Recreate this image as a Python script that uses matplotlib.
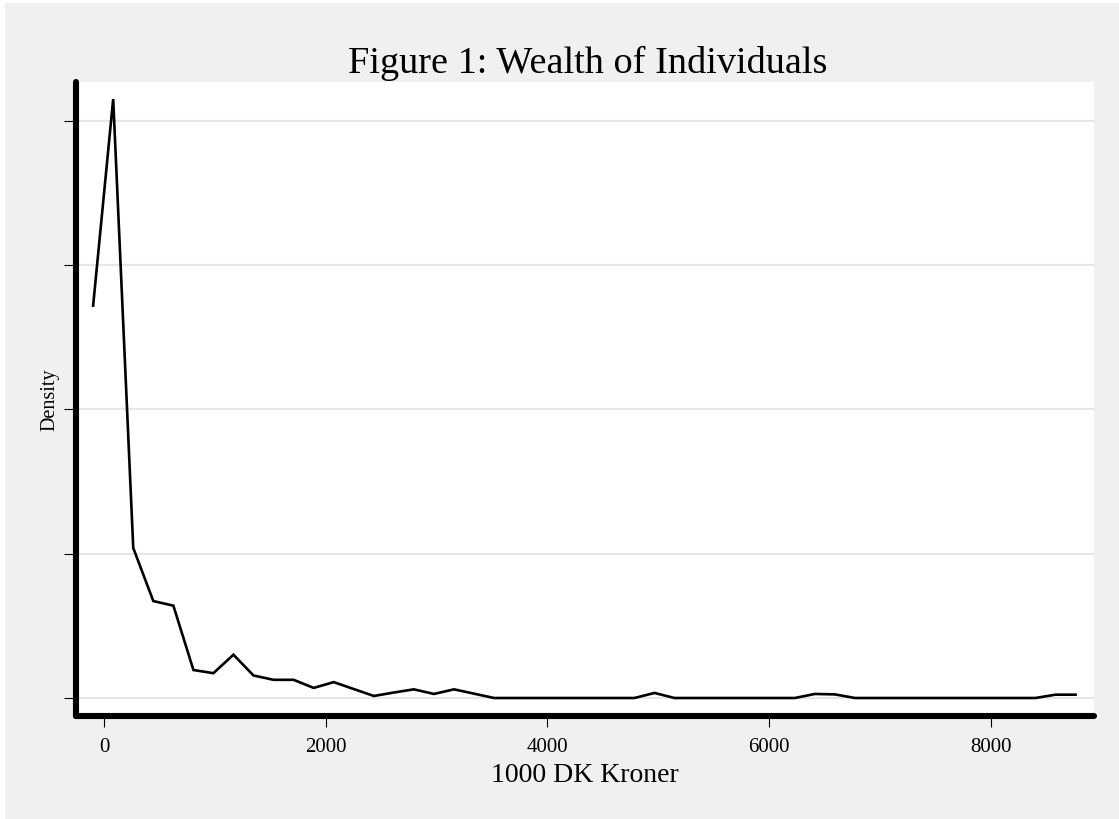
import matplotlib
matplotlib.use("Agg")
import matplotlib.pyplot as plt
from matplotlib.patches import Rectangle
import numpy as np

# ---------------------------------------------------------------------
# Data
# ---------------------------------------------------------------------
WEALTH = [
    -98, 83, 264, 445, 626, 807, 987, 1168, 1349, 1530,
    1711, 1892, 2073, 2254, 2435, 2616, 2796, 2977, 3158, 3339,
    3520, 3701, 3882, 4063, 4244, 4425, 4605, 4786, 4967, 5148,
    5329, 5510, 5691, 5872, 6053, 6234, 6414, 6595, 6776, 6957,
    7138, 7319, 7500, 7681, 7862, 8043, 8223, 8404, 8585, 8766,
]
DENSITY = [
    0.001360, 0.002076, 0.000520, 0.000336, 0.000320, 0.000097, 0.000086, 0.000150, 0.000078, 0.000063,
    0.000063, 0.000035, 0.000055, 0.000031, 0.000007, 0.000019, 0.000030, 0.000014, 0.000030, 0.000015,
    0.0, 0.0, 0.0, 0.0, 0.0, 0.0, 0.0, 0.0, 0.0000175, 0.0,
    0.0, 0.0, 0.0, 0.0, 0.0, 0.0, 0.000014, 0.0000125, 0.0, 0.0,
    0.0, 0.0, 0.0, 0.0, 0.0, 0.0, 0.0, 0.0, 0.0000115, 0.0000115,
]
X_TICKS = [0, 2000, 4000, 6000, 8000]
Y_TICKS = [0.0, 0.0005, 0.0010, 0.0015, 0.0020]

TITLE = "Figure 1: Wealth of Individuals"
XLABEL = "1000 DK Kroner"
YLABEL = "Density"

# ---------------------------------------------------------------------
# Figure
# ---------------------------------------------------------------------
W, H = 1119, 820
BG = "#f0f0f0"
plt.rcParams["font.family"] = ["Liberation Serif", "DejaVu Serif"]

fig = plt.figure(figsize=(W / 100, H / 100), dpi=100, facecolor="white")
# grey panel with thin white strip at top and left, like the Stata export
fig.patches.append(Rectangle((5 / W, 0), 1 - 5 / W, 1 - 4 / H,
                             transform=fig.transFigure, facecolor=BG,
                             edgecolor="none", zorder=-10))

left, right, top, bottom = 76, 1094, 83, 717
ax = fig.add_axes([left / W, 1 - bottom / H, (right - left) / W, (bottom - top) / H])
ax.set_facecolor("white")

ax.plot(WEALTH, DENSITY, color="black", linewidth=1.9, zorder=3,
        solid_joinstyle="miter")

ax.set_xlim(-252.6, 8932.6)
ax.set_ylim(-0.0000624, 0.002135)
ax.set_xticks(X_TICKS)
ax.set_yticks(Y_TICKS)
ax.set_yticklabels([])
ax.grid(axis="y", color="#e6e6e6", linewidth=1.5, zorder=1)
ax.set_axisbelow(True)

for side in ("top", "right"):
    ax.spines[side].set_visible(False)
for side in ("left", "bottom"):
    ax.spines[side].set_linewidth(4.4)
    ax.spines[side].set_capstyle("round")
    ax.spines[side].set_zorder(4)

ax.tick_params(axis="x", direction="out", length=8, width=0.8,
               labelsize=15, pad=7, color="black")
ax.tick_params(axis="y", direction="out", length=8.6, width=0.8, color="black")

fig.text(588 / W, 1 - 73 / H, TITLE, ha="center", va="baseline", fontsize=27.5)
fig.text(585 / W, 1 - 782 / H, XLABEL, ha="center", va="baseline", fontsize=20)
fig.text(49.5 / W, 1 - 400 / H, YLABEL, ha="center", va="center",
         rotation=90, fontsize=14.5)

fig.savefig("out.png", dpi=100, facecolor=fig.get_facecolor())
